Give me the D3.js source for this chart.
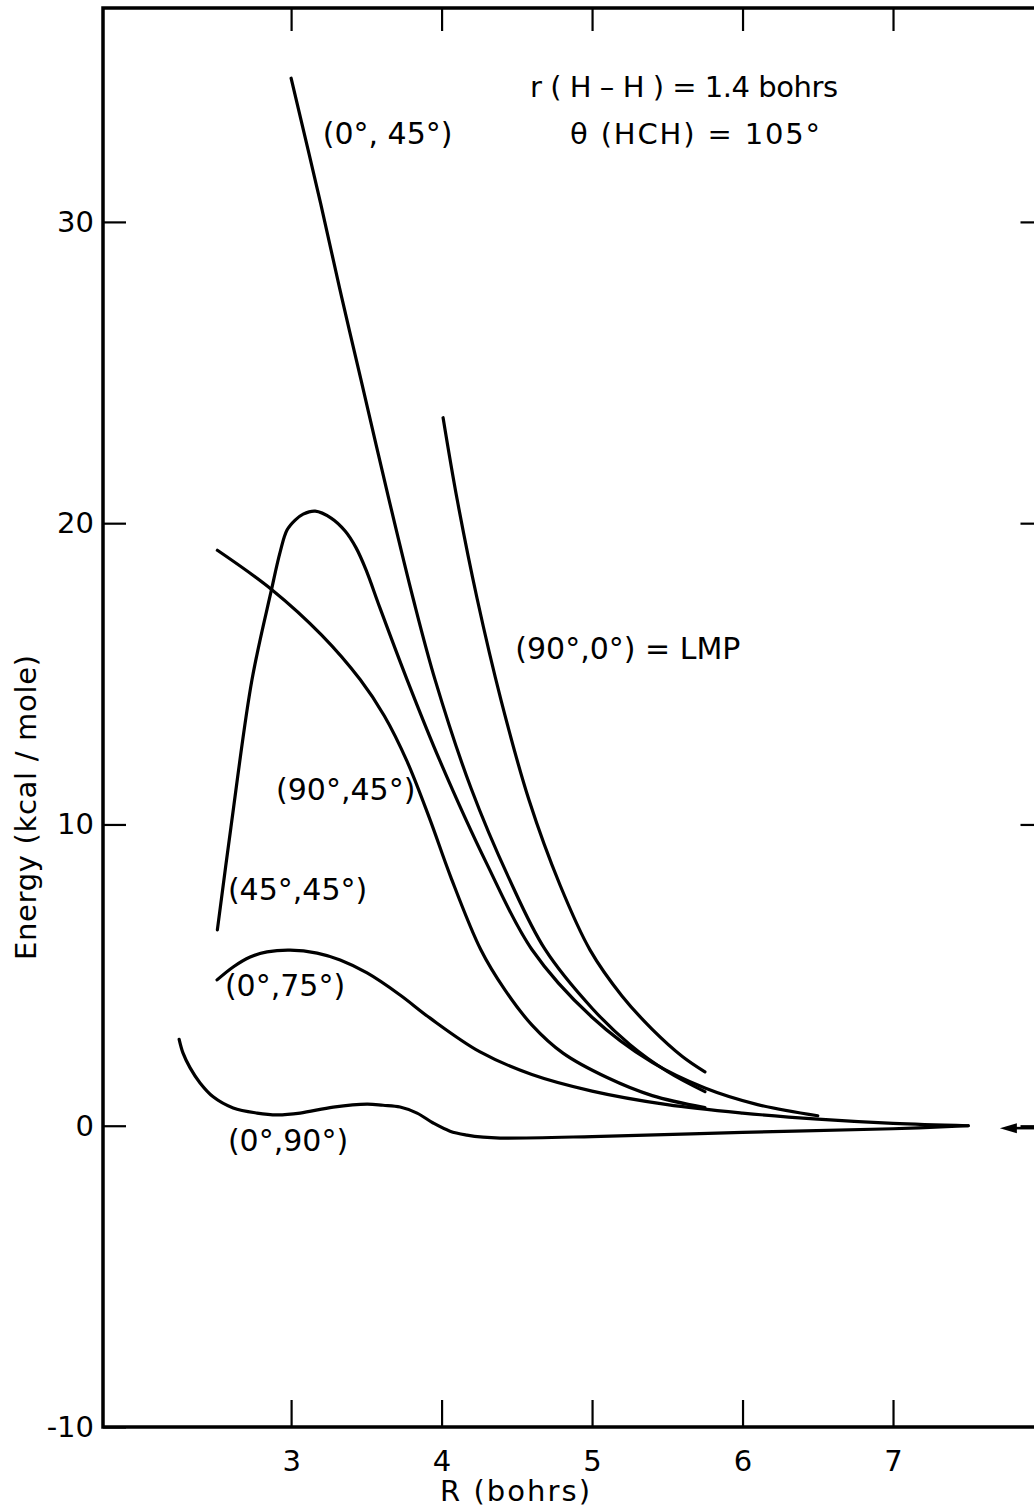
<!DOCTYPE html>
<html>
<head>
<meta charset="utf-8">
<script src="https://cdn.jsdelivr.net/npm/d3@7/dist/d3.min.js"></script>
<style>
  body { margin: 0; background: #fff; }
  svg { display: block; }
  text { font-family: "DejaVu Sans", sans-serif; fill: #000; }
</style>
</head>
<body>
<svg id="chart" width="1034" height="1508"></svg>
<script>
// axis ticks
const xTicks = [3, 4, 5, 6, 7];
const yTicks = [-10, 0, 10, 20, 30];

// curves: R (bohrs) and Energy (kcal/mole)
const r045 = [3.0, 3.197, 3.336, 3.465, 3.645, 3.811, 3.957, 4.196, 4.449, 4.688, 5.0, 5.25, 5.5, 5.75];
const e045 = [34.77, 30.6, 27.5, 24.75, 20.9, 17.5, 14.8, 11.2, 8.2, 5.85, 3.9, 2.7, 1.8, 1.13];

const rLmp = [4.01, 4.103, 4.236, 4.395, 4.581, 4.787, 4.987, 5.2, 5.4, 5.6, 5.75];
const eLmp = [23.5, 20.8, 17.5, 14.13, 10.81, 7.99, 5.83, 4.3, 3.2, 2.3, 1.79];

const r4545 = [2.51, 2.6, 2.74, 2.87, 2.927, 2.973, 3.027, 3.08, 3.16, 3.266, 3.359, 3.432, 3.498, 3.591, 3.771, 3.99, 4.3, 4.6, 5.0, 5.4, 5.75, 6.1, 6.5];
const e4545 = [6.5, 9.9, 14.8, 17.8, 19.04, 19.77, 20.1, 20.3, 20.4, 20.17, 19.74, 19.18, 18.45, 17.18, 14.8, 12.1, 8.7, 5.85, 3.6, 2.1, 1.25, 0.7, 0.33];

const r9045 = [2.51, 2.87, 3.2, 3.46, 3.62, 3.77, 3.92, 4.06, 4.26, 4.422, 4.601, 4.807, 5.1, 5.4, 5.75];
const e9045 = [19.1, 17.8, 16.3, 14.8, 13.6, 12.1, 10.2, 8.27, 5.85, 4.5, 3.34, 2.41, 1.6, 1.0, 0.6];

const r075 = [2.508, 2.615, 2.728, 2.84, 2.993, 3.173, 3.326, 3.505, 3.724, 3.924, 4.256, 4.6, 5.0, 5.5, 6.0, 6.5, 7.0, 7.5];
const e075 = [4.84, 5.27, 5.6, 5.77, 5.83, 5.73, 5.5, 5.07, 4.34, 3.57, 2.45, 1.7, 1.15, 0.7, 0.42, 0.22, 0.08, 0.0];

const r090 = [2.256, 2.282, 2.329, 2.395, 2.482, 2.615, 2.774, 2.907, 3.06, 3.28, 3.505, 3.611, 3.724, 3.837, 3.944, 4.056, 4.169, 4.276, 4.389, 5.0, 6.0, 7.0, 7.5];
const e090 = [2.87, 2.41, 1.92, 1.42, 0.96, 0.59, 0.42, 0.36, 0.42, 0.62, 0.72, 0.68, 0.62, 0.42, 0.09, -0.18, -0.31, -0.38, -0.41, -0.36, -0.22, -0.1, 0.0];

const curves = [
  [r045, e045], [rLmp, eLmp], [r4545, e4545],
  [r9045, e9045], [r075, e075], [r090, e090]
];

// labels placed by data position [R, E]
const labels = [
  ["(0°, 45°)", 3.21, 32.6],
  ["(90°,0°) = LMP", 4.49, 15.5],
  ["(90°,45°)", 2.9, 10.8],
  ["(45°,45°)", 2.58, 7.5],
  ["(0°,75°)", 2.56, 4.3],
  ["(0°,90°)", 2.58, -0.85]
];

const svg = d3.select("#chart");
const mLeft = 103, mRight = 1043.5, mTop = 8, mBottom = 1427;

const x = d3.scaleLinear().domain([1.75, 8]).range([mLeft, mRight]);
const y = d3.scaleLinear().domain([-10, 37.1]).range([mBottom, mTop]);

// bottom axis, ticks pointing in
svg.append("g")
  .attr("transform", `translate(0,${mBottom})`)
  .call(d3.axisBottom(x).tickValues(xTicks).tickSizeInner(-27).tickSizeOuter(0).tickPadding(23)
    .tickFormat(d3.format("d")));

// top axis, ticks only
svg.append("g")
  .attr("transform", `translate(0,${mTop})`)
  .call(d3.axisTop(x).tickValues(xTicks).tickSizeInner(-23).tickSizeOuter(0).tickFormat(""));

// left axis
svg.append("g")
  .attr("transform", `translate(${mLeft},0)`)
  .call(d3.axisLeft(y).tickValues(yTicks).tickSizeInner(-23).tickSizeOuter(0).tickPadding(9)
    .tickFormat(d => d < 0 ? "-" + Math.abs(d) : d));

// right axis, ticks only
svg.append("g")
  .attr("transform", `translate(${mRight},0)`)
  .call(d3.axisRight(y).tickValues([0, 10, 20, 30]).tickSizeInner(-23).tickSizeOuter(0).tickFormat(""));

svg.selectAll(".domain").remove();
svg.selectAll(".tick line").attr("stroke", "#000").attr("stroke-width", 2.2);
svg.selectAll(".tick text").attr("font-size", 29).attr("fill", "#000")
  .style("font-family", "DejaVu Sans, sans-serif");

// frame
svg.append("rect")
  .attr("x", mLeft).attr("y", mTop)
  .attr("width", mRight - mLeft).attr("height", mBottom - mTop)
  .attr("fill", "none").attr("stroke", "#000").attr("stroke-width", 3.5);

const line = d3.line()
  .x(d => x(d[0]))
  .y(d => y(d[1]))
  .curve(d3.curveCatmullRom.alpha(0.5));

svg.append("g")
  .selectAll("path")
  .data(curves)
  .join("path")
  .attr("d", c => line(d3.zip(c[0], c[1])))
  .attr("fill", "none")
  .attr("stroke", "#000")
  .attr("stroke-width", 3.2)
  .attr("stroke-linecap", "round");

// arrow on the right at E = 0
const ay = y(-0.08);
svg.append("line")
  .attr("x1", x(7.78)).attr("x2", 1034)
  .attr("y1", ay).attr("y2", ay)
  .attr("stroke", "#000").attr("stroke-width", 2.6);
svg.append("path")
  .attr("d", `M${x(7.71)},${ay} L${x(7.71) + 17},${ay - 5} L${x(7.71) + 17},${ay + 5} Z`)
  .attr("fill", "#000");

// curve labels
svg.append("g")
  .selectAll("text")
  .data(labels)
  .join("text")
  .attr("x", d => x(d[1]))
  .attr("y", d => y(d[2]))
  .attr("font-size", 30)
  .text(d => d[0]);

// parameter note
svg.append("text")
  .attr("x", 530).attr("y", 97)
  .attr("font-size", 29)
  .attr("textLength", 308).attr("lengthAdjust", "spacing")
  .text("r ( H – H ) = 1.4 bohrs");
svg.append("text")
  .attr("x", 570).attr("y", 144)
  .attr("font-size", 29)
  .attr("textLength", 250).attr("lengthAdjust", "spacing")
  .text("θ (HCH) = 105°");

// axis titles
svg.append("text")
  .attr("x", 440).attr("y", 1501)
  .attr("font-size", 29)
  .attr("textLength", 150).attr("lengthAdjust", "spacing")
  .text("R  (bohrs)");

svg.append("text")
  .attr("transform", "translate(36,960) rotate(-90)")
  .attr("font-size", 29)
  .attr("textLength", 305).attr("lengthAdjust", "spacing")
  .text("Energy  (kcal / mole)");
</script>
</body>
</html>
